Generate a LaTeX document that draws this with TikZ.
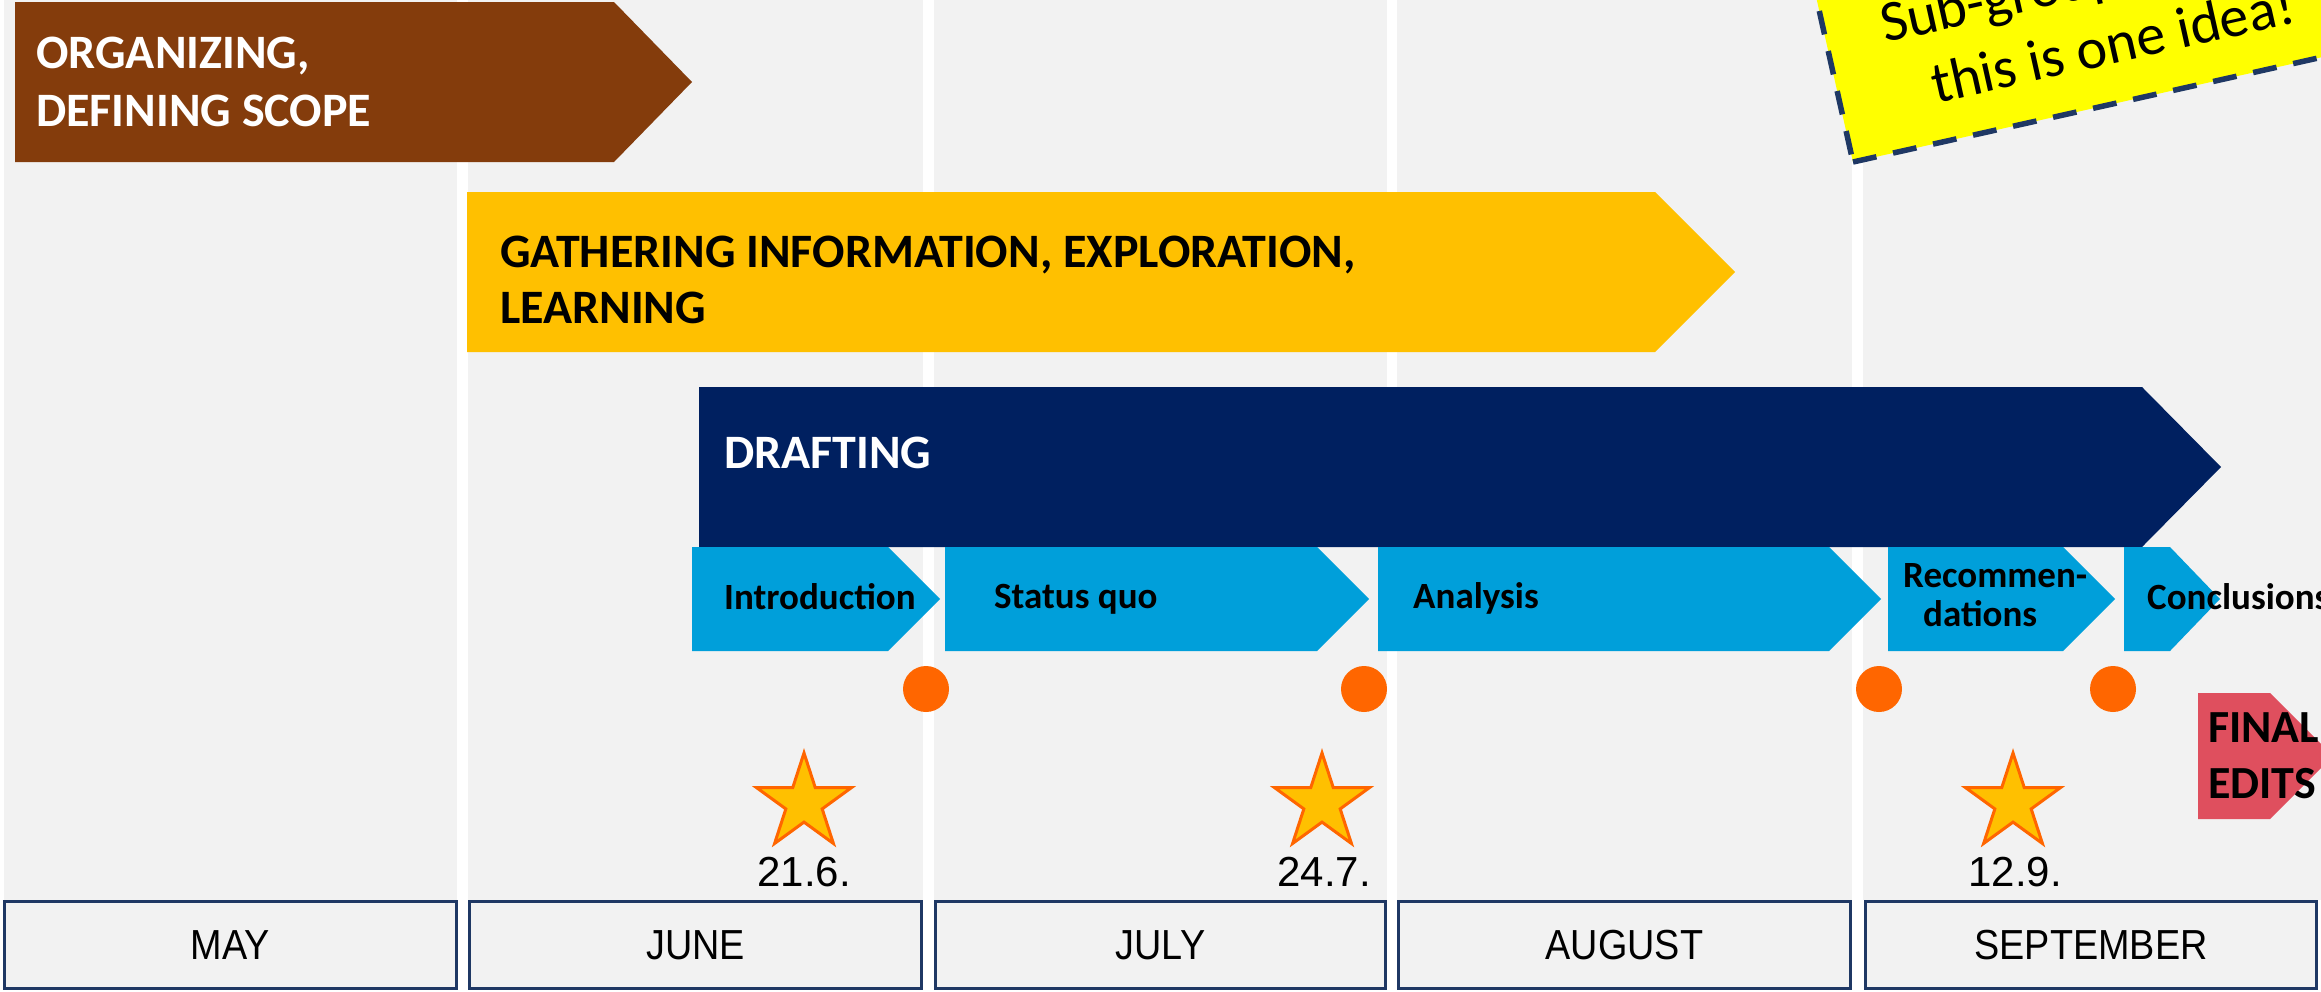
\documentclass[tikz,border=0pt]{standalone}
\usepackage{fontspec}
\setmainfont{Carlito}
\newfontfamily\arialfont{Liberation Sans}
\newfontfamily\narrowfont[FakeStretch=0.9]{Liberation Sans}
\usetikzlibrary{shapes.geometric}
\definecolor{bgc}{HTML}{F2F2F2}
\definecolor{brownc}{HTML}{843C0C}
\definecolor{goldc}{HTML}{FFC000}
\definecolor{navyc}{HTML}{002060}
\definecolor{skyc}{HTML}{009FDA}
\definecolor{orngc}{HTML}{FF6600}
\definecolor{framec}{HTML}{1F3864}
\definecolor{pinkc}{HTML}{DF4F5E}
\definecolor{notec}{HTML}{FFFF00}
\begin{document}
\begin{tikzpicture}[x=1pt,y=-1pt,
  phase/.style={inner sep=0, anchor=base west, font=\bfseries\fontsize{48}{58}\selectfont},
  finlbl/.style={inner sep=0, anchor=base west, font=\bfseries\fontsize{46}{56}\selectfont},
  part/.style={inner sep=0, anchor=base west, font=\bfseries\fontsize{37}{40}\selectfont},
  monthbox/.style={draw=framec, line width=3.3pt, fill=bgc, minimum height=87pt, inner sep=0,
    font=\narrowfont\fontsize{42}{42}\selectfont},
  datelbl/.style={inner sep=0, anchor=base, font=\arialfont\fontsize{42}{42}\selectfont},
  dot/.style={circle, fill=orngc, minimum size=46pt, inner sep=0},
  milestone/.style={star, star points=5, star point ratio=2.618, minimum size=100pt, inner sep=0,
    fill=goldc, draw=orngc, line width=3pt},
  notetext/.style={inner sep=0, rotate=12.6, font=\fontsize{58}{69}\selectfont}
]
\useasboundingbox (0,0) rectangle (2321,991);
\clip (0,0) rectangle (2321,991);
\fill[white] (0,0) rectangle (2321,991);
% columns
\fill[bgc] (4,0) rectangle (457,900);
\fill[bgc] (468,0) rectangle (923,900);
\fill[bgc] (934,0) rectangle (1387,900);
\fill[bgc] (1397,0) rectangle (1852,900);
\fill[bgc] (1863,0) rectangle (2321,900);
% phases
\fill[brownc] (15,2) -- (614,2) -- (692,82) -- (614,162) -- (15,162) -- cycle;
\node[phase, text=white] (org1) at (36,68) {ORGANIZING,};
\node[phase, text=white] (org2) at (36,126) {DEFINING SCOPE};
\fill[goldc] (467,192) -- (1655,192) -- (1735,272) -- (1655,352) -- (467,352) -- cycle;
\node[phase] (gat1) at (500,267) {GATHERING INFORMATION, EXPLORATION,};
\node[phase] (gat2) at (500,323) {LEARNING};
\fill[navyc] (699,387) -- (2142,387) -- (2221,467) -- (2142,547) -- (699,547) -- cycle;
\node[phase, text=white] (draft) at (724,468) {DRAFTING};
% sub parts
\fill[skyc] (692,547) -- (888,547) -- (940,599) -- (888,651) -- (692,651) -- cycle;
\fill[skyc] (945,547) -- (1317,547) -- (1369,599) -- (1317,651) -- (945,651) -- cycle;
\fill[skyc] (1378,547) -- (1829,547) -- (1881,599) -- (1829,651) -- (1378,651) -- cycle;
\fill[skyc] (1888,547) -- (2063,547) -- (2115,599) -- (2063,651) -- (1888,651) -- cycle;
\fill[skyc] (2124,547) -- (2170,547) -- (2220,599) -- (2170,651) -- (2124,651) -- cycle;
\node[part] (intro) at (724,609) {Introduction};
\node[part] (status) at (994,608) {Status quo};
\node[part] (analysis) at (1413,608) {Analysis};
\node[part] (rec1) at (1903,587) {Recommen-};
\node[part] (rec2) at (1923,626) {dations};
\node[part] (concl) at (2147,609) {Conclusions};
% final edits
\fill[pinkc] (2198,693) -- (2270,693) -- (2333,756) -- (2270,819) -- (2198,819) -- cycle;
\node[finlbl] (fin1) at (2208,742) {FINAL};
\node[finlbl] (fin2) at (2208,798) {EDITS};
% dots
\node[dot] (d1) at (926,689) {};
\node[dot] (d2) at (1364,689) {};
\node[dot] (d3) at (1879,689) {};
\node[dot] (d4) at (2113,689) {};
% stars and dates
\node[milestone] (s1) at (804,803) {};
\node[milestone] (s2) at (1322,803) {};
\node[milestone] (s3) at (2013,803) {};
\node[datelbl] (t1) at (804,886) {21.6.};
\node[datelbl] (t2) at (1324,886) {24.7.};
\node[datelbl] (t3) at (2015,886) {12.9.};
% months
\node[monthbox, minimum width=452pt] (may) at (230.5,945) {MAY};
\node[monthbox, minimum width=452pt] (jun) at (695.5,945) {JUNE};
\node[monthbox, minimum width=450pt] (jul) at (1160.5,945) {JULY};
\node[monthbox, minimum width=452pt] (aug) at (1624.5,945) {AUGUST};
\node[monthbox, minimum width=451pt] (sep) at (2091,945) {SEPTEMBER};
% sticky note
\filldraw[fill=notec, draw=framec, line width=5.5pt, dash pattern=on 24pt off 17pt]
  (1853,162) -- (2536,9.3) -- (2470.6,-283.5) -- (1787.6,-130.8) -- cycle;
\node[notetext, anchor=base west] (n1) at (1885,43) {Sub-group};
\node[notetext, anchor=base] (n2) at (2117,63) {this is one idea!};
\end{tikzpicture}
\end{document}
